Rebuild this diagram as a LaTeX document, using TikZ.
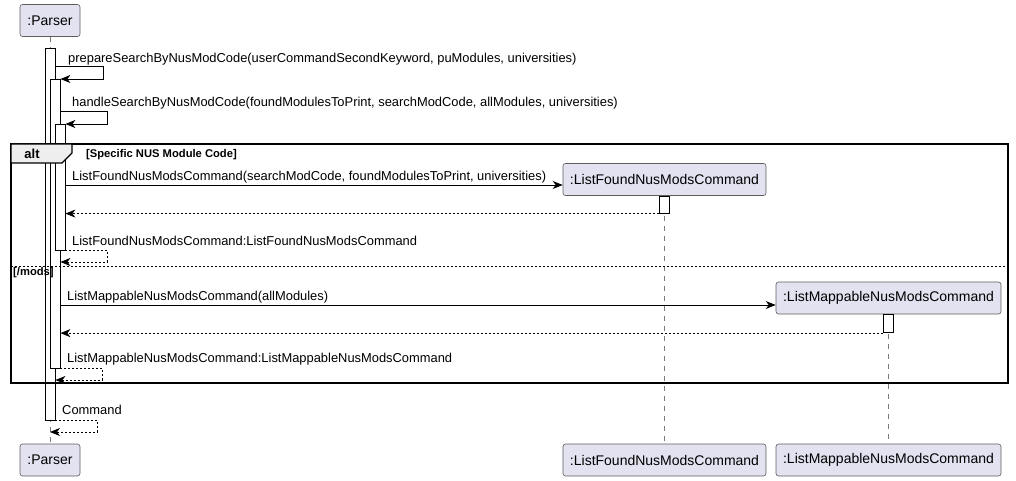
\documentclass[tikz,border=0pt]{standalone}
\usepackage{fontspec}
\setmainfont{Liberation Sans}
\usetikzlibrary{arrows.meta}
\definecolor{partfill}{HTML}{E2E2F0}
\definecolor{partline}{HTML}{181818}
\definecolor{tabfill}{HTML}{EEEEEE}
\definecolor{lifegray}{HTML}{7A7A7A}
\tikzset{
  participant/.style={draw=partline!70, fill=partfill, rounded corners=2.5pt, line width=0.6pt,
    minimum height=32pt, inner sep=0pt, font=\fontsize{14}{16}\selectfont},
  actbar/.style={draw=black, fill=white, line width=0.8pt, minimum width=10pt, inner sep=0pt},
  lifeline/.style={draw=lifegray, line width=0.6pt, dash pattern=on 5pt off 5pt},
  msg/.style={draw=black, line width=0.8pt, -{Stealth[length=10pt,width=8pt,inset=3pt]}},
  ret/.style={draw=black, line width=0.8pt, dash pattern=on 2pt off 2pt, -{Stealth[length=10pt,width=8pt,inset=3pt]}},
  msgtext/.style={anchor=base west, inner sep=0pt, font=\fontsize{12.9}{14}\selectfont},
  guard/.style={anchor=west, inner sep=0pt, font=\bfseries\fontsize{11.2}{13}\selectfont},
}
\begin{document}
\begin{tikzpicture}[x=1pt,y=-1pt]
\useasboundingbox (0,0) rectangle (1016,481);

% participants
\node[participant, minimum width=60pt] (pt) at (50,20.5) {:Parser};
\node[participant, minimum width=60pt] (pb) at (50,460) {:Parser};
\node[participant, minimum width=203pt] (lf) at (664.5,179.5) {:ListFoundNusModsCommand};
\node[participant, minimum width=203pt] (lfb) at (664.5,460) {:ListFoundNusModsCommand};
\node[participant, minimum width=225pt] (lm) at (888.5,298) {:ListMappableNusModsCommand};
\node[participant, minimum width=225pt] (lmb) at (888.5,460) {:ListMappableNusModsCommand};

% lifelines
\draw[lifeline] (pt.south) -- (pb.north);
\draw[lifeline] (lf.south) -- (lfb.north);
\draw[lifeline] (lm.south) -- (lmb.north);

% activation bars
\node[actbar, minimum height=372pt] (a1) at (50,234) {};
\node[actbar, minimum height=289pt] (a2) at (55,223.5) {};
\node[actbar, minimum height=126pt] (a3) at (60,187) {};
\node[actbar, minimum height=17pt, anchor=north] (a4) at (lf.south) {};
\node[actbar, minimum height=18pt, anchor=north] (a5) at (lm.south) {};

% alt frame
\coordinate (fr1) at (11,144);
\coordinate (fr2) at (1008,383);
\draw[line width=1.5pt] (fr1) rectangle (fr2);
\draw[line width=1.2pt, fill=tabfill] (fr1) -- ++(61,0) -- ++(0,9) -- ++(-10,10) -- ++(-51,0) -- cycle;
\node[font=\bfseries\fontsize{13}{15}\selectfont, inner sep=0pt] (alt) at (32,154) {alt};
\node[guard] (g1) at (86,155) {[Specific NUS Module Code]};
\coordinate (dv1) at (11,266);
\coordinate (dv2) at (1008,266);
\draw[line width=0.8pt, dash pattern=on 2pt off 2pt] (dv1) -- (dv2);
\node[guard] (g2) at (13,273) {[/mods]};

% messages
\coordinate (m1s) at (a1.east |- 0,66);
\coordinate (m1e) at (a2.east |- 0,79);
\draw[msg] (m1s) -- ++(48,0) |- (m1e);
\node[msgtext] (t1) at (68,62.5) {prepareSearchByNusModCode(userCommandSecondKeyword, puModules, universities)};

\coordinate (m2s) at (a2.east |- 0,111);
\coordinate (m2e) at (a3.east |- 0,124);
\draw[msg] (m2s) -- ++(47,0) |- (m2e);
\node[msgtext] (t2) at (72,107) {handleSearchByNusModCode(foundModulesToPrint, searchModCode, allModules, universities)};

\coordinate (m3s) at (a3.east |- 0,185);
\draw[msg] (m3s) -- (lf.west |- m3s);
\node[msgtext] (t3) at (72,181) {ListFoundNusModsCommand(searchModCode, foundModulesToPrint, universities)};

\draw[ret] (a4.south west) -- (a3.east |- a4.south);

\coordinate (r3s) at (a3.south east);
\coordinate (r3e) at (a2.east |- 0,262);
\draw[ret] (r3s) -- ++(42,0) |- (r3e);
\node[msgtext] (t4) at (72,245) {ListFoundNusModsCommand:ListFoundNusModsCommand};

\coordinate (m4s) at (a2.east |- 0,305);
\draw[msg] (m4s) -- (lm.west |- m4s);
\node[msgtext] (t5) at (67,300.5) {ListMappableNusModsCommand(allModules)};

\draw[ret] (a5.south west) -- (a2.east |- a5.south);

\coordinate (r4s) at (a2.south east);
\coordinate (r4e) at (a1.east |- 0,380);
\draw[ret] (r4s) -- ++(42,0) |- (r4e);
\node[msgtext] (t6) at (67,362) {ListMappableNusModsCommand:ListMappableNusModsCommand};

\coordinate (r5s) at (a1.south east);
\coordinate (r5e) at (50,432);
\draw[ret] (r5s) -- ++(42,0) |- (r5e);
\node[msgtext] (t7) at (62,414) {Command};
\end{tikzpicture}
\end{document}
